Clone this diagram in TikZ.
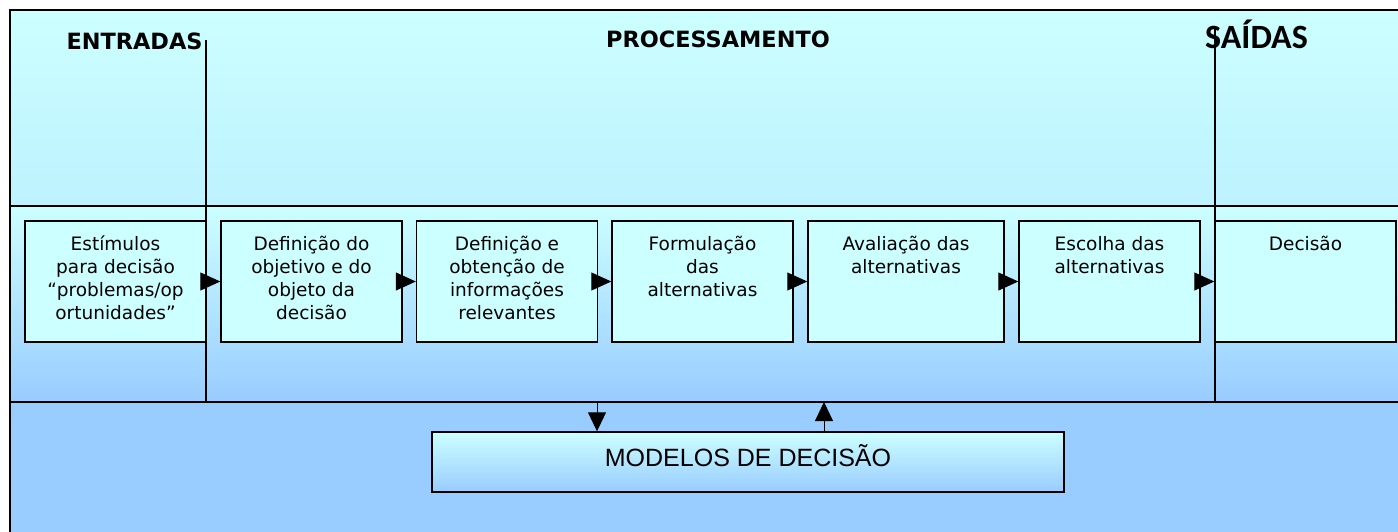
\documentclass[tikz,border=0pt]{standalone}
\usepackage{fontspec}
\setmainfont{DejaVu Sans}
\newfontfamily\arialfont{Liberation Sans}
\newfontfamily\calibrifont{Carlito}
\usetikzlibrary{arrows.meta,positioning}
\definecolor{paleCyan}{HTML}{CCFFFF}
\definecolor{midCyan}{HTML}{BDF2FF}
\definecolor{skyBlue}{HTML}{99CCFF}

\tikzset{
  etapa/.style={draw, line width=1.4pt, fill=paleCyan, minimum width=181pt, minimum height=121pt, inner sep=0pt},
  etapatexto/.style={align=center, font=\fontsize{18.5}{23}\selectfont, anchor=base, inner sep=0pt},
  titulo/.style={font=\bfseries\fontsize{22.4}{26}\selectfont, anchor=base, inner sep=0pt},
  seta/.style={-{Triangle[length=20pt,width=18pt]}, line width=1pt},
  setamodelo/.style={-{Triangle[length=19pt,width=18pt]}, line width=1pt},
}

\begin{document}
\begin{tikzpicture}[x=1pt,y=-1pt]
  \clip (0,0) rectangle (1398,531);
  \shade[top color=paleCyan, bottom color=midCyan] (10,10) rectangle (1410,206);
  \shade[top color=paleCyan, bottom color=skyBlue] (10,206) rectangle (1410,402);
  \fill[skyBlue] (10,402) rectangle (1410,545);
  \draw[line width=2pt] (10,545) -- (10,10) -- (1410,10);
  \draw[line width=1.6pt] (10,206) -- (1410,206);
  \draw[line width=1.6pt] (10,402) -- (1410,402);

  \node[titulo] (entradas) at (134.5,49) {ENTRADAS};
  \node[titulo] (processamento) at (718,47) {PROCESSAMENTO};
  \node[titulo, font=\calibrifont\bfseries\fontsize{34}{40}\selectfont] (saidas) at (1256.5,48) {SAÍDAS};

  \draw[line width=1.4pt] (206,40) -- (206,402);
  \draw[line width=1.4pt] (1215,28) -- (1215,402);

  \node[etapa] (e1) at (115.5,281.5) {};
  \node[etapa] (e2) at (311.5,281.5) {};
  \node[etapa] (e3) at (507,281.5) {};
  \node[etapa] (e4) at (702.5,281.5) {};
  \node[etapa, minimum width=196pt] (e5) at (906,281.5) {};
  \node[etapa] (e6) at (1109.5,281.5) {};
  \node[etapa] (e7) at (1305.5,281.5) {};

  \node[etapatexto] (t1) at (115.5,319) {Estímulos\\para decisão\\“problemas/op\\ortunidades”};
  \node[etapatexto] (t2) at (311.5,319) {Definição do\\objetivo e do\\objeto da\\decisão};
  \node[etapatexto] (t3) at (507,319) {Definição e\\obtenção de\\informações\\relevantes};
  \node[etapatexto] (t4) at (702.5,296) {Formulação\\das\\alternativas};
  \node[etapatexto] (t5) at (906,273) {Avaliação das\\alternativas};
  \node[etapatexto] (t6) at (1109.5,273) {Escolha das\\alternativas};
  \node[etapatexto] (t7) at (1305.5,250) {Decisão};

  \foreach \a/\b in {e1/e2,e2/e3,e3/e4,e4/e5,e5/e6,e6/e7}
    \draw[seta] ([xshift=-6pt]\a.east) -- (\b.west);

  \node[draw, line width=1.4pt, top color=paleCyan, bottom color=skyBlue, minimum width=632pt, minimum height=60pt, inner sep=0pt] (modelos) at (748,462) {};
  \node[font=\arialfont\fontsize{25}{30}\selectfont, anchor=base, inner sep=0pt] (modtexto) at (748,466) {MODELOS DE DECISÃO};

  \coordinate (desce) at (597,402);
  \coordinate (sobe) at (824,402);
  \draw[setamodelo] (desce) -- (desce |- modelos.north);
  \draw[setamodelo] (sobe |- modelos.north) -- (sobe);
\end{tikzpicture}
\end{document}
